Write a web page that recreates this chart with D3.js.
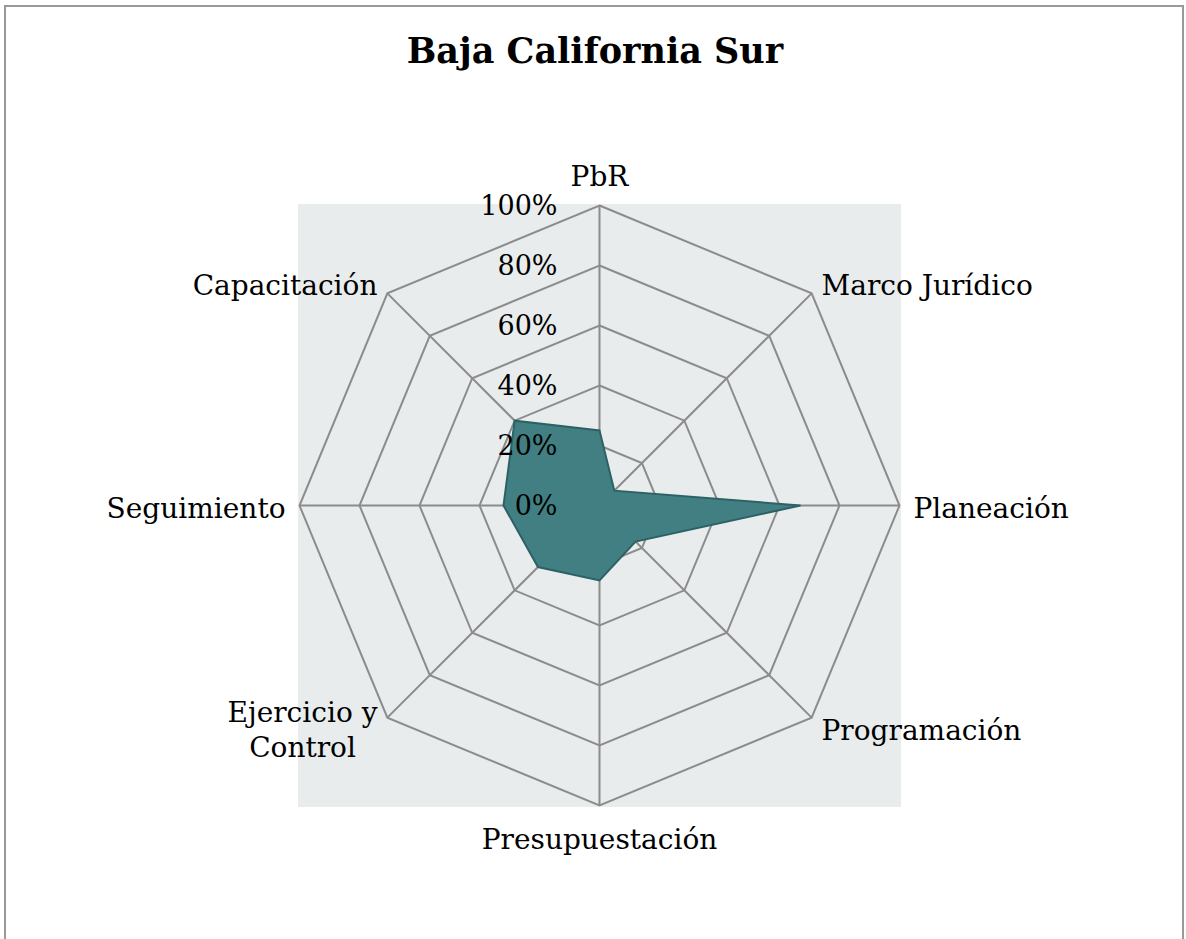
<!DOCTYPE html>
<html>
<head>
<meta charset="utf-8">
<script src="https://cdn.jsdelivr.net/npm/d3@7"></script>
<style>
  body { margin: 0; background: #fff; }
  text { font-family: "DejaVu Serif", Georgia, serif; fill: #000; }
</style>
</head>
<body>
<div id="chart"></div>
<script>
const title = "Baja California Sur"
const categories = ["PbR", "Marco Jurídico", "Planeación", "Programación", "Presupuestación", "Ejercicio y\nControl", "Seguimiento", "Capacitación"]
const values = [0.25, 0.07, 0.67, 0.17, 0.25, 0.29, 0.32, 0.40]
const ticks = [0, 0.2, 0.4, 0.6, 0.8, 1]

const width = 1186, height = 939
const cx = 599.5, cy = 505.5, R = 300

const svg = d3.select("#chart").append("svg")
    .attr("width", width)
    .attr("height", height)

// outer frame
svg.append("rect")
    .attr("x", 5).attr("y", 6)
    .attr("width", 1178).attr("height", 960)
    .attr("fill", "none")
    .attr("stroke", "#999")
    .attr("stroke-width", 2)

svg.append("text")
    .attr("x", 595).attr("y", 63)
    .attr("text-anchor", "middle")
    .attr("font-weight", "bold")
    .attr("font-size", 35)
    .text(title)

// plot area
svg.append("rect")
    .attr("x", cx - R - 1.5).attr("y", cy - R - 1.5)
    .attr("width", 2 * R + 3).attr("height", 2 * R + 3)
    .attr("fill", "#e9eced")

const r = d3.scaleLinear().domain([0, 1]).range([0, R])
const angle = d3.scaleLinear().domain([0, categories.length]).range([0, 2 * Math.PI])

const g = svg.append("g").attr("transform", `translate(${cx},${cy})`)

const pt = (i, v) => [r(v) * Math.sin(angle(i)), -r(v) * Math.cos(angle(i))]
const ring = d3.line().curve(d3.curveLinearClosed)

g.selectAll(".ring")
    .data(ticks.filter(t => t > 0))
    .enter().append("path")
    .attr("class", "ring")
    .attr("d", t => ring(categories.map((c, i) => pt(i, t))))
    .attr("fill", "none")
    .attr("stroke", "#8c8c8c")
    .attr("stroke-width", 2)

g.selectAll(".spoke")
    .data(categories)
    .enter().append("line")
    .attr("class", "spoke")
    .attr("x1", 0).attr("y1", 0)
    .attr("x2", (c, i) => pt(i, 1)[0])
    .attr("y2", (c, i) => pt(i, 1)[1])
    .attr("stroke", "#8c8c8c")
    .attr("stroke-width", 2)

g.append("path")
    .attr("d", ring(values.map((v, i) => pt(i, v))))
    .attr("fill", "#417f82")
    .attr("stroke", "#2c6265")
    .attr("stroke-width", 2)

g.selectAll(".tick")
    .data(ticks)
    .enter().append("text")
    .attr("class", "tick")
    .attr("x", -42)
    .attr("y", t => -r(t))
    .attr("dy", "0.35em")
    .attr("text-anchor", "end")
    .attr("font-size", 27)
    .text(d3.format(".0%"))

// category labels
g.selectAll(".cat")
    .data(categories)
    .enter().append("text")
    .attr("class", "cat")
    .attr("font-size", 28)
    .each(function (c, i) {
        const a = angle(i)
        const s = Math.sin(a), co = Math.cos(a)
        const x = (R + 14) * s, y = -(R + 14) * co
        const lines = c.split("\n")
        const el = d3.select(this)
        let anchor = Math.abs(s) < 0.1 ? "middle" : (s > 0 ? "start" : "end")
        let base
        if (co > 0.9) base = y - 6
        else if (co < -0.9) base = y + 29
        else base = y + 12 - (lines.length - 1) * 17.5
        lines.forEach((l, k) => {
            el.append("tspan").attr("x", x).attr("y", base + k * 35).text(l)
        })
        if (lines.length > 1) {
            const w = d3.max(el.selectAll("tspan").nodes(), n => n.getComputedTextLength())
            const mx = anchor === "end" ? x - w / 2 : anchor === "start" ? x + w / 2 : x
            el.selectAll("tspan").attr("x", mx)
            anchor = "middle"
        }
        el.attr("text-anchor", anchor)
    })
</script>
</body>
</html>
